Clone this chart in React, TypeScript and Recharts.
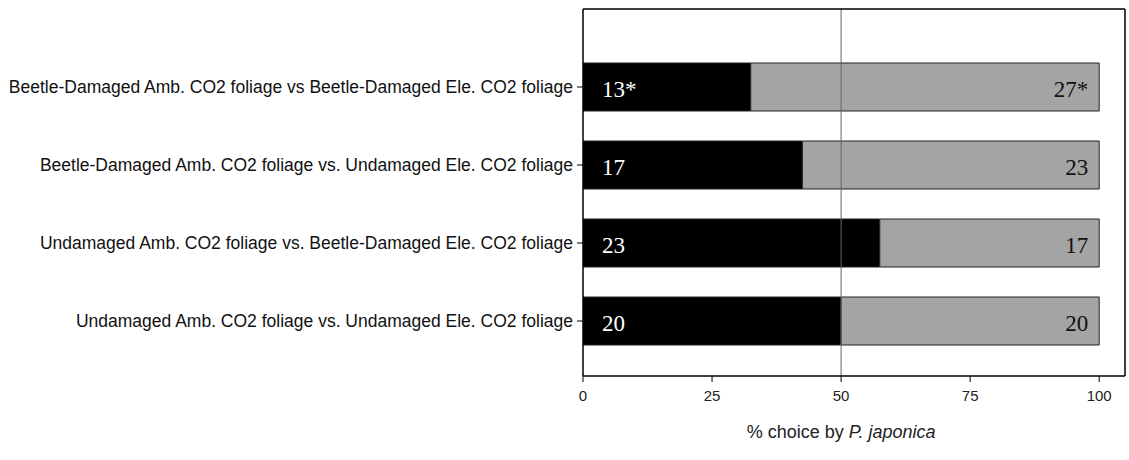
import React from "react";
import {
  BarChart,
  Bar,
  XAxis,
  YAxis,
  ReferenceLine,
  LabelList,
} from "recharts";

const comparisons = [
  "Beetle-Damaged Amb. CO2 foliage vs Beetle-Damaged Ele. CO2 foliage",
  "Beetle-Damaged Amb. CO2 foliage vs. Undamaged Ele. CO2 foliage",
  "Undamaged Amb. CO2 foliage vs. Beetle-Damaged Ele. CO2 foliage",
  "Undamaged Amb. CO2 foliage vs. Undamaged Ele. CO2 foliage",
];
const ambientPct = [32.5, 42.5, 57.5, 50];
const elevatedPct = [67.5, 57.5, 42.5, 50];
const ambientLabels = ["13*", "17", "23", "20"];
const elevatedLabels = ["27*", "23", "17", "20"];
const xTicks = [0, 25, 50, 75, 100];

const data = comparisons.map((name, i) => ({
  name,
  amb: ambientPct[i],
  ele: elevatedPct[i],
  ambLabel: ambientLabels[i],
  eleLabel: elevatedLabels[i],
}));

const SANS = "'Liberation Sans', Arial, sans-serif";
const SERIF = "'Liberation Serif', 'Times New Roman', serif";

const AmbLabel = (props: any) => {
  const { x, y, height, value } = props;
  return (
    <text
      x={x + 19}
      y={y + height / 2 + 10}
      fill="#fff"
      fontFamily={SERIF}
      fontSize={23}
    >
      {value}
    </text>
  );
};

const EleLabel = (props: any) => {
  const { x, y, width, height, value } = props;
  return (
    <text
      x={x + width - 11}
      y={y + height / 2 + 10}
      fill="#111"
      textAnchor="end"
      fontFamily={SERIF}
      fontSize={23}
    >
      {value}
    </text>
  );
};

const XTick = (props: any) => {
  const { x, y, payload } = props;
  return (
    <text
      x={x}
      y={y + 15}
      textAnchor="middle"
      fill="#222"
      fontFamily={SANS}
      fontSize={15}
    >
      {payload.value}
    </text>
  );
};

const AxisTitle = (props: any) => {
  const { viewBox } = props;
  const cx = viewBox.x + (viewBox.width * 50) / 105;
  return (
    <text
      x={cx}
      y={viewBox.y + 62}
      textAnchor="middle"
      fill="#222"
      fontFamily={SANS}
      fontSize={18}
    >
      % choice by <tspan fontStyle="italic">P. japonica</tspan>
    </text>
  );
};

export default function App() {
  return (
    <div style={{ position: "fixed", left: 0, top: 0, background: "#fff" }}>
      <BarChart
        width={1129}
        height={460}
        data={data}
        layout="vertical"
        margin={{ top: 8, right: 3, bottom: 24, left: 0 }}
        barSize={48}
      >
        <XAxis
          type="number"
          domain={[0, 105]}
          ticks={xTicks}
          allowDataOverflow
          tickSize={6}
          tickMargin={4}
          height={60}
          axisLine={{ stroke: "#000", strokeWidth: 1.5 }}
          tickLine={{ stroke: "#000" }}
          tick={<XTick />}
          label={<AxisTitle />}
        />
        <XAxis
          xAxisId="top"
          orientation="top"
          type="number"
          domain={[0, 105]}
          height={1}
          tick={false}
          tickLine={false}
          axisLine={{ stroke: "#000", strokeWidth: 1.5 }}
        />
        <YAxis
          type="category"
          dataKey="name"
          width={583}
          padding={{ top: 39, bottom: 16 }}
          tickSize={6}
          tickMargin={4}
          axisLine={{ stroke: "#000", strokeWidth: 1.5 }}
          tickLine={{ stroke: "#000" }}
          tick={{ fill: "#111", fontSize: 17.5, fontFamily: SANS }}
          interval={0}
        />
        <YAxis
          yAxisId="right"
          orientation="right"
          type="category"
          dataKey="name"
          width={1}
          tick={false}
          tickLine={false}
          axisLine={{ stroke: "#000", strokeWidth: 1.5 }}
        />
        <Bar
          dataKey="amb"
          stackId="a"
          fill="#000"
          stroke="#222"
          isAnimationActive={false}
        >
          <LabelList dataKey="ambLabel" content={<AmbLabel />} />
        </Bar>
        <Bar
          dataKey="ele"
          stackId="a"
          fill="#a4a4a4"
          stroke="#222"
          isAnimationActive={false}
        >
          <LabelList dataKey="eleLabel" content={<EleLabel />} />
        </Bar>
        <ReferenceLine x={50} stroke="#666" strokeWidth={1} />
      </BarChart>
    </div>
  );
}
